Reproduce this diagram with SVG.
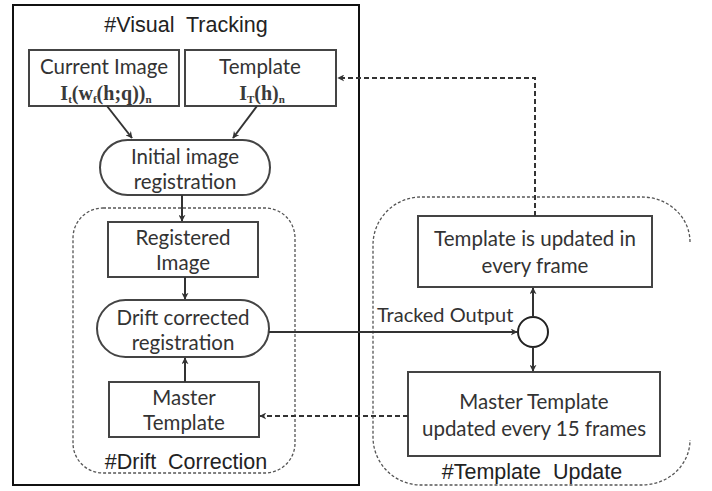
<svg xmlns="http://www.w3.org/2000/svg" width="712" height="491" viewBox="0 0 712 491">
<defs>
<marker id="arr" viewBox="0 0 10 10" refX="9" refY="5" markerWidth="7" markerHeight="7" orient="auto" markerUnits="userSpaceOnUse">
<path d="M0,0 L10,5 L0,10 L3,5 z" fill="#333"/>
</marker>
<style>
.box{fill:#fff;stroke:#444;stroke-width:2}
.grp{fill:none;stroke:#555;stroke-width:1.3;stroke-dasharray:3,2}
.t{font-family:Lato,"Open Sans",sans-serif;font-size:20.5px;fill:#333;text-anchor:middle}
.h{font-family:"Liberation Sans",Arial,sans-serif;font-size:21.5px;fill:#222;text-anchor:middle;white-space:pre}
.m{font-family:"Liberation Serif","Times New Roman",serif;font-size:20px;font-weight:bold;fill:#3a3a3a;text-anchor:middle}
.s{font-size:11px}
.c{fill:none;stroke:#333;stroke-width:2}
.d{fill:none;stroke:#333;stroke-width:2;stroke-dasharray:5,3}
</style>
</defs>
<rect width="712" height="491" fill="#fff"/>
<g id="visual-tracking">
<rect x="13" y="5" width="346" height="480" fill="none" stroke="#111" stroke-width="2"/>
<text class="h" x="186" y="32">#Visual  Tracking</text>
</g>
<g id="drift-correction-group">
<rect class="grp" x="73" y="208" width="222" height="265" rx="30"/>
<text class="h" x="186" y="469">#Drift  Correction</text>
</g>
<g id="template-update-group">
<path class="grp" d="M690,242 A48,45 0 0 0 642,197 L421,197 A48,48 0 0 0 373,245 L373,437 A48,48 0 0 0 421,485 L642,485 A48,45 0 0 0 690,440"/>
<text class="h" x="532" y="479">#Template  Update</text>
</g>
<g id="current-image">
<rect class="box" x="29" y="50" width="150" height="56"/>
<text class="t" x="104" y="74">Current Image</text>
<text class="m" x="106" y="100">I<tspan class="s" dy="3">t</tspan><tspan dy="-3">(w</tspan><tspan class="s" dy="3">f</tspan><tspan dy="-3">(h;q))</tspan><tspan class="s" dy="3">n</tspan></text>
</g>
<g id="template">
<rect class="box" x="185" y="50" width="151" height="56"/>
<text class="t" x="260" y="74">Template</text>
<text class="m" x="262" y="100">I<tspan class="s" dy="3">T</tspan><tspan dy="-3">(h)</tspan><tspan class="s" dy="3">n</tspan></text>
</g>
<g id="initial-registration">
<rect class="box" x="100" y="140" width="170" height="55" rx="27.5"/>
<text class="t" x="185" y="164">Initial image</text>
<text class="t" x="185" y="189">registration</text>
</g>
<g id="registered-image">
<rect class="box" x="108" y="222" width="150" height="55"/>
<text class="t" x="183" y="245">Registered</text>
<text class="t" x="183" y="270">Image</text>
</g>
<g id="drift-corrected">
<rect class="box" x="97" y="300" width="172" height="57" rx="28.5"/>
<text class="t" x="183" y="325">Drift corrected</text>
<text class="t" x="183" y="350">registration</text>
</g>
<g id="master-template">
<rect class="box" x="109" y="382" width="150" height="55"/>
<text class="t" x="184" y="405">Master</text>
<text class="t" x="184" y="430">Template</text>
</g>
<g id="template-updated">
<rect class="box" x="418" y="216" width="234" height="71"/>
<text class="t" x="535" y="246">Template is updated in</text>
<text class="t" x="535" y="273">every frame</text>
</g>
<g id="master-template-updated">
<rect class="box" x="408" y="372" width="252" height="84"/>
<text class="t" x="534" y="409">Master Template</text>
<text class="t" x="534" y="436">updated every 15 frames</text>
</g>
<g id="junction">
<circle cx="533" cy="332" r="15" fill="#fff" stroke="#222" stroke-width="2"/>
</g>
<g id="connectors">
<line class="c" x1="107" y1="106" x2="132" y2="138" marker-end="url(#arr)"/>
<line class="c" x1="257" y1="106" x2="233" y2="138" marker-end="url(#arr)"/>
<line class="c" x1="182" y1="195" x2="182" y2="221" marker-end="url(#arr)"/>
<line class="c" x1="185" y1="277" x2="185" y2="299" marker-end="url(#arr)"/>
<line class="c" x1="185" y1="382" x2="185" y2="358" marker-end="url(#arr)"/>
<line class="c" x1="269" y1="332" x2="517" y2="332" marker-end="url(#arr)"/>
<line class="c" x1="533" y1="317" x2="533" y2="288" marker-end="url(#arr)"/>
<line class="c" x1="533" y1="347" x2="533" y2="371" marker-end="url(#arr)"/>
<polyline class="d" points="535,216 535,78 338,78" marker-end="url(#arr)"/>
<line class="d" x1="408" y1="416" x2="260" y2="416" marker-end="url(#arr)"/>
<text x="377" y="322" font-family="Lato,'Open Sans',sans-serif" font-size="20" fill="#333">Tracked Output</text>
</g>
</svg>
